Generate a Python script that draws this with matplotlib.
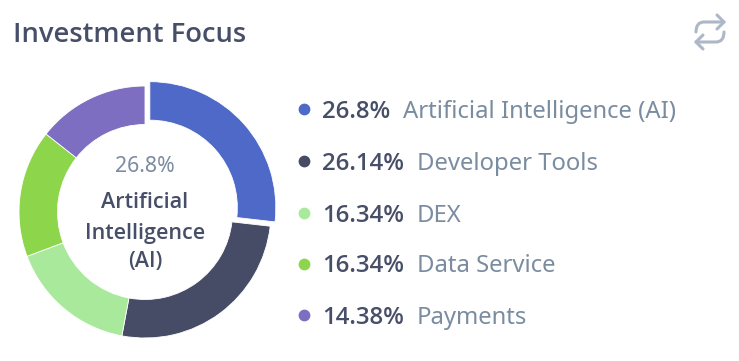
import matplotlib.pyplot as plt
from matplotlib.patches import PathPatch
from matplotlib.path import Path

plt.rcParams['font.family'] = ['Noto Sans', 'DejaVu Sans']

# data
categories = ['Artificial Intelligence (AI)', 'Developer Tools', 'DEX', 'Data Service', 'Payments']
values = [26.8, 26.14, 16.34, 16.34, 14.38]
value_labels = ['26.8%', '26.14%', '16.34%', '16.34%', '14.38%']
colors = ['#4E69C7', '#474C66', '#A9E99B', '#8DD54A', '#7E6EC1']
explode = [6.5, 0, 0, 0, 0]  # pie takes this in axes units, here pixels

DARK = '#474E68'
GREY = '#7A8CA0'
H = 361

fig = plt.figure(figsize=(7.39, 3.61), dpi=100)
ax = fig.add_axes([0, 0, 1, 1])

# donut, axes units are pixels of the picture
ax.pie(values, colors=colors, explode=explode, startangle=90, counterclock=False,
       center=(145, H - 212), radius=126, frame=True,
       wedgeprops=dict(width=38.5, edgecolor='white', linewidth=0.6))
ax.set_xlim(0, 739)
ax.set_ylim(0, H)
ax.axis('off')

ax.text(13, H - 35, 'Investment Focus', fontsize=19.7, family='Open Sans', fontweight=600, color=DARK, va='center')

# centre label
ax.text(145, H - 166, value_labels[0], fontsize=15.3, color=GREY, ha='center', va='center')
for line, y in zip(['Artificial', 'Intelligence', '(AI)'], [203, 233, 262]):
    ax.text(145, H - y, line, fontsize=15.5, family='Open Sans', fontweight=600, color=DARK, ha='center', va='center')

# legend
legend_y = [109, 161, 213, 264, 315]
label_x = [403, 417, 417, 417, 417]
for i in range(len(categories)):
    y = H - legend_y[i]
    ax.scatter([304], [y], s=72, color=colors[i], linewidths=0)
    ax.text(322, y - 2.5, value_labels[i], fontsize=17.3, family='Open Sans', fontweight=600, color=DARK, va='center')
    ax.text(label_x[i], y - 2.5, categories[i], fontsize=17.2, color=GREY, va='center')

# swap icon top right
icon = '#AEB7C7'
top = [(696, H - 32), (696, H - 22), (704, H - 22), (724, H - 22)]
bottom = [(724, H - 32), (724, H - 42), (716, H - 42), (696, H - 42)]
codes = [Path.MOVETO, Path.CURVE3, Path.CURVE3, Path.LINETO]
for pts in (top, bottom):
    ax.add_patch(PathPatch(Path(pts, codes), fill=False, edgecolor=icon, lw=2.2, capstyle='round'))
ax.plot([717, 724, 717], [H - 15, H - 22, H - 29], color=icon, lw=2.2, solid_capstyle='round')
ax.plot([703, 696, 703], [H - 35, H - 42, H - 49], color=icon, lw=2.2, solid_capstyle='round')

fig.savefig('out.png', dpi=100)
